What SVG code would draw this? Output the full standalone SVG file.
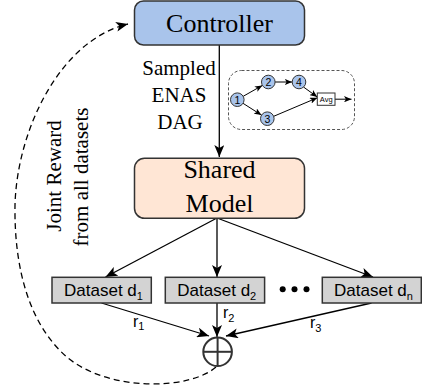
<svg xmlns="http://www.w3.org/2000/svg" width="422" height="385" viewBox="0 0 422 385">
<style>
.serif{font-family:"Liberation Serif","Times New Roman",serif;fill:#000}
.sans{font-family:"Liberation Sans",Arial,sans-serif;fill:#000}
.edge{fill:none;stroke:#000;stroke-width:1.3}
.box{stroke:#333;stroke-width:1.5}
.dnode{fill:#A9C4EB;stroke:#333;stroke-width:1}
.ds{fill:#D3D3D3;stroke:#333;stroke-width:1.5}
</style>
<defs>
<marker id="ah" viewBox="0 0 12 10" refX="12" refY="5" markerWidth="12" markerHeight="10" orient="auto" markerUnits="userSpaceOnUse"><path d="M0,0 L12,5 L0,10 L3,5 z" fill="#000"/></marker>
<marker id="sah" viewBox="0 0 12 10" refX="12" refY="5" markerWidth="7.5" markerHeight="6.5" orient="auto" markerUnits="userSpaceOnUse"><path d="M0,0 L12,5 L0,10 L3,5 z" fill="#000"/></marker>
</defs>

<g id="connectors">
<line class="edge" x1="219.3" y1="45" x2="219.3" y2="157" marker-end="url(#ah)"/>
<line class="edge" x1="217" y1="218" x2="105.5" y2="277" marker-end="url(#ah)"/>
<line class="edge" x1="217" y1="218" x2="217" y2="277" marker-end="url(#ah)"/>
<line class="edge" x1="217" y1="218" x2="373" y2="277" marker-end="url(#ah)"/>
<line class="edge" x1="101.5" y1="303" x2="209" y2="336" marker-end="url(#ah)"/>
<line class="edge" x1="217" y1="303" x2="217" y2="337" marker-end="url(#ah)"/>
<line class="edge" x1="371.5" y1="303" x2="226" y2="336" marker-end="url(#ah)"/>
<path class="edge" stroke-dasharray="6,4" d="M216,367 C190,390 110,392 68,358 C30,326 14,270 15,205 C17,130 60,40 128,24" marker-end="url(#ah)"/>
</g>

<g id="controller">
<rect class="box" x="134.5" y="1" width="170" height="44" rx="9" fill="#A9C4EB"/>
<text class="serif" x="219.5" y="32" font-size="26" text-anchor="middle">Controller</text>
</g>

<g id="edge-label">
<text class="serif" font-size="21" text-anchor="middle"><tspan x="179" y="75">Sampled</tspan><tspan x="179" y="102">ENAS</tspan><tspan x="180" y="129">DAG</tspan></text>
</g>

<g id="dag-inset">
<rect x="228.5" y="70.5" width="126" height="59" rx="13" fill="none" stroke="#555" stroke-width="1" stroke-dasharray="3,2"/>
<g fill="none" stroke="#000" stroke-width="1">
<line x1="243.2" y1="96.3" x2="262.4" y2="85.4" marker-end="url(#sah)"/>
<line x1="275.1" y1="82" x2="292.2" y2="82" marker-end="url(#sah)"/>
<line x1="243" y1="103.3" x2="261.5" y2="115.1" marker-end="url(#sah)"/>
<line x1="303.5" y1="87" x2="317.3" y2="97" marker-end="url(#sah)"/>
<line x1="273.7" y1="116.3" x2="317.3" y2="97.8" marker-end="url(#sah)"/>
<line x1="335" y1="99.2" x2="351.5" y2="99.2" marker-end="url(#sah)"/>
</g>
<circle class="dnode" cx="237.3" cy="99.7" r="6.8"/>
<circle class="dnode" cx="268.3" cy="82" r="6.8"/>
<circle class="dnode" cx="299" cy="82" r="6.8"/>
<circle class="dnode" cx="267.3" cy="118.7" r="6.8"/>
<g class="sans" font-size="10.5" text-anchor="middle">
<text x="237.3" y="103.5">1</text>
<text x="268.3" y="85.8">2</text>
<text x="299" y="85.8">4</text>
<text x="267.3" y="122.5">3</text>
</g>
<rect x="317.3" y="93" width="17.7" height="12.3" fill="#fff" stroke="#333" stroke-width="1"/>
<text class="sans" x="326.2" y="101.8" font-size="7.5" text-anchor="middle">Avg</text>
</g>

<g id="shared-model">
<rect class="box" x="134.5" y="158.3" width="170" height="60" rx="10" fill="#FFE6D5"/>
<text class="serif" x="219.5" y="178.3" font-size="26" text-anchor="middle">Shared</text>
<text class="serif" x="219.5" y="211.7" font-size="26" text-anchor="middle">Model</text>
</g>

<g id="dataset-d1">
<rect class="ds" x="52" y="277.3" width="99.3" height="25.7"/>
<text class="sans" x="103.5" y="295.7" font-size="17" text-anchor="middle">Dataset d<tspan font-size="11" dy="4">1</tspan></text>
</g>
<g id="dataset-d2">
<rect class="ds" x="165.3" y="277.3" width="99.3" height="25.7"/>
<text class="sans" x="216.8" y="295.7" font-size="17" text-anchor="middle">Dataset d<tspan font-size="11" dy="4">2</tspan></text>
</g>
<g id="dots">
<circle cx="282.7" cy="289.3" r="3"/>
<circle cx="294.5" cy="289.3" r="3"/>
<circle cx="306.5" cy="289.3" r="3"/>
</g>
<g id="dataset-dn">
<rect class="ds" x="322.3" y="277.3" width="99" height="25.7"/>
<text class="sans" x="373.5" y="295.7" font-size="17" text-anchor="middle">Dataset d<tspan font-size="11" dy="4">n</tspan></text>
</g>

<g id="reward-labels" class="sans" font-size="16">
<text x="133" y="326.7">r<tspan font-size="11" dy="3.5">1</tspan></text>
<text x="223" y="318.3">r<tspan font-size="11" dy="3.5">2</tspan></text>
<text x="310" y="328.3">r<tspan font-size="11" dy="3.5">3</tspan></text>
</g>

<g id="sum">
<circle cx="217.6" cy="351.8" r="14.3" fill="#fff" stroke="#333" stroke-width="2"/>
<line x1="203.3" y1="351.8" x2="231.9" y2="351.8" stroke="#333" stroke-width="2"/>
<line x1="217.6" y1="337.5" x2="217.6" y2="366.1" stroke="#333" stroke-width="2"/>
</g>

<g id="reward-text">
<text class="serif" font-size="21" text-anchor="middle" transform="translate(61,176) rotate(-90)">Joint Reward</text>
<text class="serif" font-size="21" text-anchor="middle" transform="translate(88,177) rotate(-90)">from all datasets</text>
</g>
</svg>
